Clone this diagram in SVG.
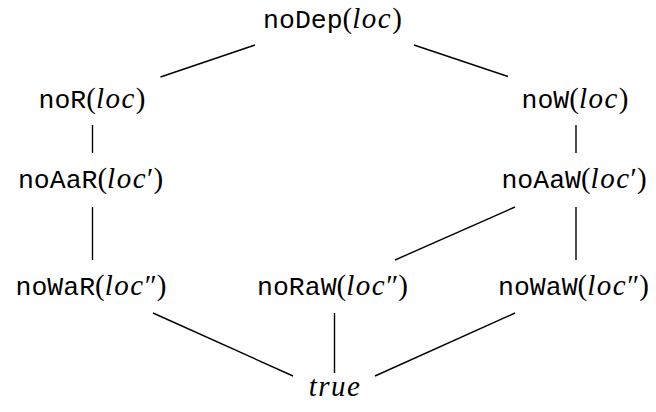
<svg xmlns="http://www.w3.org/2000/svg" width="656" height="412" viewBox="0 0 656 412">
<style>
text{font-size:28px;fill:#000;text-anchor:middle}
.tt{font-family:"Liberation Mono","DejaVu Sans Mono",monospace;font-size:26.5px}
.rm{font-family:"Liberation Serif","DejaVu Serif",serif;font-size:29px}
.it{font-family:"Liberation Serif","DejaVu Serif",serif;font-style:italic;font-size:29px;letter-spacing:1.5px}
#edges line{stroke:#000;stroke-width:1.4;stroke-linecap:butt}
</style>
<rect width="656" height="412" fill="#fff"/>
<g id="edges">
<line x1="255" y1="45" x2="160.5" y2="77"/>
<line x1="414" y1="45" x2="508" y2="76.5"/>
<line x1="92.5" y1="125" x2="92.5" y2="153"/>
<line x1="576" y1="125" x2="576" y2="153"/>
<line x1="92.5" y1="207" x2="92.5" y2="260"/>
<line x1="576" y1="207" x2="576" y2="260"/>
<line x1="515" y1="207" x2="395" y2="260"/>
<line x1="153" y1="313" x2="293" y2="376"/>
<line x1="334.5" y1="313" x2="334.5" y2="373"/>
<line x1="515" y1="313" x2="375" y2="376"/>
</g>
<g id="noDep"><text x="332.5" y="28"><tspan class="tt">noDep</tspan><tspan class="rm">(</tspan><tspan class="it">loc</tspan><tspan class="rm">)</tspan></text></g>
<g id="noR"><text x="92" y="108"><tspan class="tt">noR</tspan><tspan class="rm">(</tspan><tspan class="it">loc</tspan><tspan class="rm">)</tspan></text></g>
<g id="noW"><text x="575" y="108"><tspan class="tt">noW</tspan><tspan class="rm">(</tspan><tspan class="it">loc</tspan><tspan class="rm">)</tspan></text></g>
<g id="noAaR"><text x="90.5" y="188"><tspan class="tt">noAaR</tspan><tspan class="rm">(</tspan><tspan class="it">loc</tspan><tspan class="rm">′)</tspan></text></g>
<g id="noAaW"><text x="574" y="188"><tspan class="tt">noAaW</tspan><tspan class="rm">(</tspan><tspan class="it">loc</tspan><tspan class="rm">′)</tspan></text></g>
<g id="noWaR"><text x="91" y="295"><tspan class="tt">noWaR</tspan><tspan class="rm">(</tspan><tspan class="it">loc</tspan><tspan class="rm">″)</tspan></text></g>
<g id="noRaW"><text x="332.5" y="295"><tspan class="tt">noRaW</tspan><tspan class="rm">(</tspan><tspan class="it">loc</tspan><tspan class="rm">″)</tspan></text></g>
<g id="noWaW"><text x="573.5" y="295"><tspan class="tt">noWaW</tspan><tspan class="rm">(</tspan><tspan class="it">loc</tspan><tspan class="rm">″)</tspan></text></g>
<g id="true"><text x="335" y="396"><tspan class="it">true</tspan></text></g>
</svg>
